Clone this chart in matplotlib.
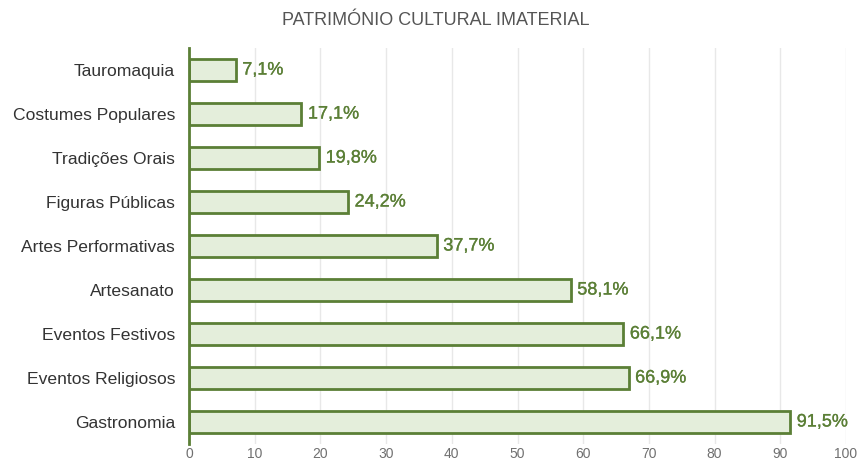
import matplotlib
matplotlib.use("Agg")
import matplotlib.pyplot as plt
import matplotlib.patheffects as pe

categories = ["Tauromaquia", "Costumes Populares", "Tradições Orais", "Figuras Públicas",
              "Artes Performativas", "Artesanato", "Eventos Festivos", "Eventos Religiosos",
              "Gastronomia"]
values = [7.1, 17.1, 19.8, 24.2, 37.7, 58.1, 66.1, 66.9, 91.5]
xticks = [0, 10, 20, 30, 40, 50, 60, 70, 80, 90, 100]
title = "PATRIMÓNIO CULTURAL IMATERIAL"

plt.rcParams['font.family'] = ['Liberation Sans', 'DejaVu Sans']
green = "#5b7f36"
fill = "#e4eedb"

fig = plt.figure(figsize=(8.58, 4.62), dpi=100)
ax = fig.add_axes([0.2203, 0.039, 0.7657, 0.857])
ypos = list(range(len(categories)))
ax.barh(ypos, values, height=0.5, color=fill, edgecolor=green, linewidth=2, zorder=3)
for y, v in zip(ypos, values):
    ax.text(v + 1.0, y, f"{v:.1f}".replace(".", ",") + "%", va="center", ha="left",
            color=green, fontsize=13, zorder=4,
            path_effects=[pe.withStroke(linewidth=0.2, foreground=green)])
ax.set_yticks(ypos)
ax.set_yticklabels(categories, fontsize=12.6, color="#333333")
ax.set_ylim(len(categories) - 0.5, -0.5)
ax.set_xlim(0, 100)
ax.set_xticks(xticks)
ax.set_xticklabels([str(t) for t in xticks], fontsize=10, color="#707070")
ax.tick_params(axis="x", length=0, pad=2)
ax.tick_params(axis="y", length=0, pad=10)
for s in ["top", "right", "bottom"]:
    ax.spines[s].set_visible(False)
ax.spines["left"].set_color(green)
ax.spines["left"].set_linewidth(2)
ax.spines["left"].set_zorder(5)
ax.grid(axis="x", color="#e8e8e8", linewidth=1, zorder=0)
ax.set_axisbelow(True)
fig.text(0.508, 0.955, title, ha="center", va="center", fontsize=13, color="#555555")
fig.savefig("out.png", dpi=100)
